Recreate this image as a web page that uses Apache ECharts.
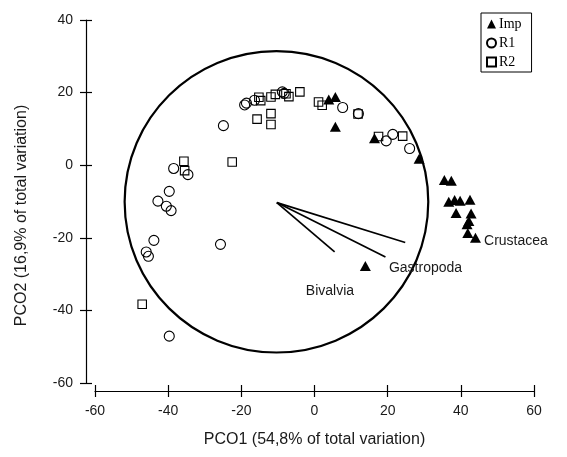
<!DOCTYPE html>
<html><head><meta charset="utf-8">
<script src="https://cdn.jsdelivr.net/npm/echarts@6/dist/echarts.min.js"></script>
<style>html,body{margin:0;padding:0;background:#fff}#c{width:567px;height:457px}</style>
</head><body><div id="c"></div>
<script>
const seriesNames = ['Imp', 'R1', 'R2'];
const impPoints = [
  [3.9, 18.1], [5.7, 18.8], [5.7, 10.6], [16.4, 7.4], [28.6, 1.8],
  [35.5, -4.1], [37.4, -4.3], [36.7, -10.1], [38.3, -9.6], [39.8, -9.8],
  [42.5, -9.5], [38.7, -13.2], [42.8, -13.3], [42.2, -15.4], [41.7, -16.3],
  [41.9, -18.7], [44.0, -20.0], [13.9, -27.8]
];
const r1Points = [
  [-19.1, 16.6], [-18.6, 17.1], [-16.4, 17.9], [-8.8, 20.2], [-8.3, 19.8],
  [7.7, 15.9], [12.0, 14.2], [19.6, 6.7], [21.4, 8.5], [26.0, 4.6],
  [-24.9, 10.9], [-38.5, -0.9], [-34.6, -2.6], [-39.7, -7.2], [-42.8, -9.9],
  [-40.5, -11.3], [-39.2, -12.5], [-43.9, -20.7], [-46.0, -23.9], [-45.4, -25.1],
  [-25.7, -21.8], [-39.7, -47.1]
];
const r2Points = [
  [-15.2, 18.7], [-14.7, 17.8], [-11.9, 18.8], [-10.7, 19.5], [-7.8, 19.7],
  [-7.0, 18.9], [-4.0, 20.2], [1.1, 17.4], [2.1, 16.5], [11.9, 14.1],
  [17.5, 7.9], [24.1, 8.0], [-15.7, 12.7], [-11.9, 14.2], [-11.9, 11.2],
  [-22.5, 0.9], [-35.7, 1.1], [-35.5, -1.5], [-47.1, -38.3]
];
const circleSpec = [[-10.4, -10.1, 41.5]];
const vectorOrigin = [-10.3, -10.3];
const vectorNames = ['Crustacea', 'Gastropoda', 'Bivalvia'];
const vectorEnds = [[24.8, -21.3], [19.4, -25.3], [5.5, -23.9]];
const vectorLabelAnchors = [[46.2, -21.0], [20.2, -28.4], [-2.5, -34.7]];
const xRange = [-60, 60, 20];
const yRange = [-60, 40, 20];
const xTitle = 'PCO1 (54,8% of total variation)';
const yTitle = 'PCO2 (16,9% of total variation)';

const SANS = 'Liberation Sans, Arial, sans-serif';
const SERIF = 'Liberation Serif, Times New Roman, serif';
const ink = '#000';
const txt = '#1a1a1a';

function mkAxis(range, pos, off, main, name, isY) {
  const ax = {
    type: 'value', min: range[0], max: range[1], interval: range[2],
    position: pos, offset: off,
    splitLine: { show: false },
    axisLine: { show: main, onZero: false, lineStyle: { color: ink, width: 1.2 } },
    axisTick: { show: true, inside: !main, length: 6, lineStyle: { color: ink, width: 1.2 } },
    axisLabel: { show: main, margin: 13, fontSize: 14, color: txt, fontFamily: SANS }
  };
  if (main) {
    ax.name = name;
    ax.nameLocation = 'middle';
    ax.nameTextStyle = isY
      ? { fontSize: 16, color: txt, fontFamily: SANS, padding: [0, 28, 0, 0] }
      : { fontSize: 16, color: txt, fontFamily: SANS };
    ax.nameGap = isY ? 56 : 41;
  }
  return ax;
}

const chart = echarts.init(document.getElementById('c'), null, { renderer: 'canvas' });
chart.setOption({
  animation: false,
  backgroundColor: '#fff',
  grid: { left: 95, right: 33, top: 20, bottom: 74 },
  xAxis: [mkAxis(xRange, 'bottom', 8, true, xTitle, false), mkAxis(xRange, 'bottom', 8, false)],
  yAxis: [mkAxis(yRange, 'left', 9, true, yTitle, true), mkAxis(yRange, 'left', 9, false)],
  legend: {
    data: seriesNames, orient: 'vertical', left: 481, top: 13,
    borderColor: ink, borderWidth: 1, backgroundColor: '#fff',
    padding: [4, 10, 3, 5], itemGap: 5, itemWidth: 9, itemHeight: 9,
    textStyle: { fontFamily: SERIF, fontSize: 14, color: ink, padding: [0, 0, 0, -2] }
  },
  series: [
    {
      type: 'custom', silent: true, z: 1,
      data: circleSpec,
      renderItem: function (params, api) {
        const c = api.coord([api.value(0), api.value(1)]);
        const s = api.size([api.value(2), api.value(2)]);
        return { type: 'ellipse', shape: { cx: c[0], cy: c[1], rx: s[0], ry: s[1] },
                 style: { fill: 'none', stroke: ink, lineWidth: 2.2 } };
      }
    },
    {
      type: 'lines', coordinateSystem: 'cartesian2d', silent: true, z: 2,
      data: vectorEnds.map(e => ({ coords: [vectorOrigin, e] })),
      lineStyle: { color: ink, width: 1.7, opacity: 1 }
    },
    {
      type: 'scatter', silent: true, z: 3,
      data: vectorLabelAnchors, symbolSize: 1,
      itemStyle: { color: 'rgba(0,0,0,0)', opacity: 1 },
      label: { show: true, position: 'right', distance: 0, opacity: 1,
               formatter: p => vectorNames[p.dataIndex],
               fontSize: 14, color: txt, fontFamily: SANS }
    },
    {
      name: 'Imp', type: 'scatter', data: impPoints, symbol: 'triangle', symbolSize: [11, 10], z: 4,
      itemStyle: { color: ink, opacity: 1 }, emphasis: { disabled: true }
    },
    {
      name: 'R1', type: 'scatter', data: r1Points, symbol: 'circle', symbolSize: 10, z: 4,
      itemStyle: { color: 'rgba(255,255,255,0)', borderColor: ink, borderWidth: 1.1, opacity: 1 }, emphasis: { disabled: true }
    },
    {
      name: 'R2', type: 'scatter', data: r2Points, symbol: 'rect', symbolSize: 8.5, z: 4,
      itemStyle: { color: 'rgba(255,255,255,0)', borderColor: ink, borderWidth: 1.1, opacity: 1 }, emphasis: { disabled: true }
    }
  ]
});
</script></body></html>
